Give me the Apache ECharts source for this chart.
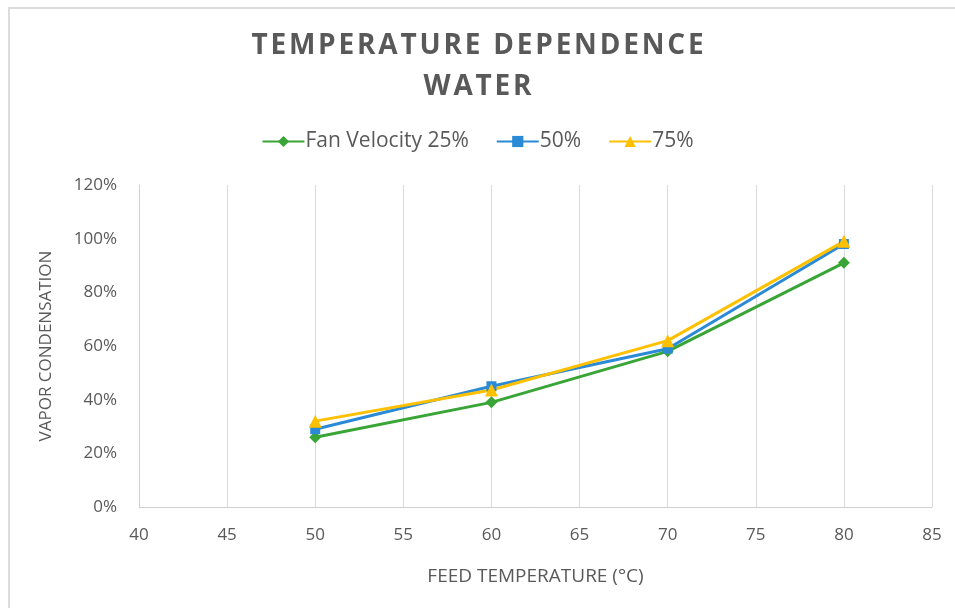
<!DOCTYPE html>
<html>
<head>
<meta charset="utf-8">
<script src="https://cdn.jsdelivr.net/npm/echarts@6/dist/echarts.min.js"></script>
<style>
	html, body { margin: 0; padding: 0; background: #fff; }
	#chart { width: 955px; height: 608px; }
</style>
</head>
<body>
<div id="chart"></div>
<script>
	/* feed temperatures (x) and condensation fractions per fan velocity */
	var temperatures = [50, 60, 70, 80];
	var fan25 = [0.26, 0.39, 0.58, 0.91];
	var fan50 = [0.29, 0.45, 0.59, 0.98];
	var fan75 = [0.32, 0.436, 0.62, 0.99];
	var seriesNames = ["Fan Velocity 25%", "50%", "75%"];
	var titleLines = ["TEMPERATURE DEPENDENCE", "WATER"];

	var textColor = "#595959";
	var font = "'Open Sans', sans-serif";

	function pairs(values) {
		var out = [];
		for (var i = 0; i < temperatures.length; i++) {
			out.push([temperatures[i], values[i]]);
		}
		return out;
	}

	// canvas text has no letter spacing, so put hair spaces between letters
	function spaced(s) {
		return s.split("").join("\u200A");
	}

	function lineSeries(name, values, color, symbol, size) {
		return {
			name : name,
			type : "line",
			data : pairs(values),
			symbol : symbol,
			symbolSize : size,
			lineStyle : { color : color, width : 3 },
			itemStyle : { color : color },
			z : 3
		};
	}

	var chart = echarts.init(document.getElementById("chart"));
	chart.setOption({
		animation : false,
		title : {
			text : titleLines.map(spaced).join("\n"),
			left : "center",
			top : 21,
			padding : [5, 5, 5, 19],
			textStyle : {
				fontFamily : font,
				fontSize : 28,
				fontWeight : "bold",
				color : textColor,
				lineHeight : 41
			}
		},
		legend : {
			top : 126,
			left : "center",
			padding : [5, 5, 5, 25],
			itemWidth : 42,
			itemHeight : 14,
			itemGap : 27,
			textStyle : { fontFamily : font, fontSize : 21, color : textColor, padding : [0, 0, 0, -4] },
			data : seriesNames
		},
		graphic : [ {
			type : "polyline",
			shape : { points : [ [9, 608], [9, 8], [955, 8] ] },
			style : { stroke : "#dcdcdc", lineWidth : 2, fill : null }
		} ],
		grid : {
			left : 139,
			right : 23,
			top : 185,
			bottom : 101
		},
		xAxis : {
			type : "value",
			min : 40,
			max : 85,
			interval : 5,
			name : "FEED TEMPERATURE (°C)",
			nameLocation : "middle",
			nameGap : 60,
			nameTextStyle : { fontFamily : font, fontSize : 19, color : textColor },
			axisLine : { show : true, lineStyle : { color : "#d0d0d0", width : 1 } },
			axisTick : { show : false },
			axisLabel : { fontFamily : font, fontSize : 17, color : textColor, margin : 20 },
			splitLine : { show : true, lineStyle : { color : "#d9d9d9", width : 1 } }
		},
		yAxis : {
			type : "value",
			min : 0,
			max : 1.2,
			interval : 0.2,
			name : "VAPOR CONDENSATION",
			nameLocation : "middle",
			nameGap : 84,
			nameTextStyle : { fontFamily : font, fontSize : 17, color : textColor },
			axisLine : { show : true, lineStyle : { color : "#d0d0d0", width : 1 } },
			axisTick : { show : false },
			axisLabel : {
				fontFamily : font,
				fontSize : 17,
				color : textColor,
				margin : 22,
				formatter : function(v) { return Math.round(v * 100) + "%"; }
			},
			splitLine : { show : false }
		},
		series : [
			lineSeries(seriesNames[0], fan25, "#3aa537", "diamond", 12),
			lineSeries(seriesNames[1], fan50, "#2a8ad6", "rect", 10),
			lineSeries(seriesNames[2], fan75, "#ffc000", "triangle", 13)
		]
	});
</script>
</body>
</html>
